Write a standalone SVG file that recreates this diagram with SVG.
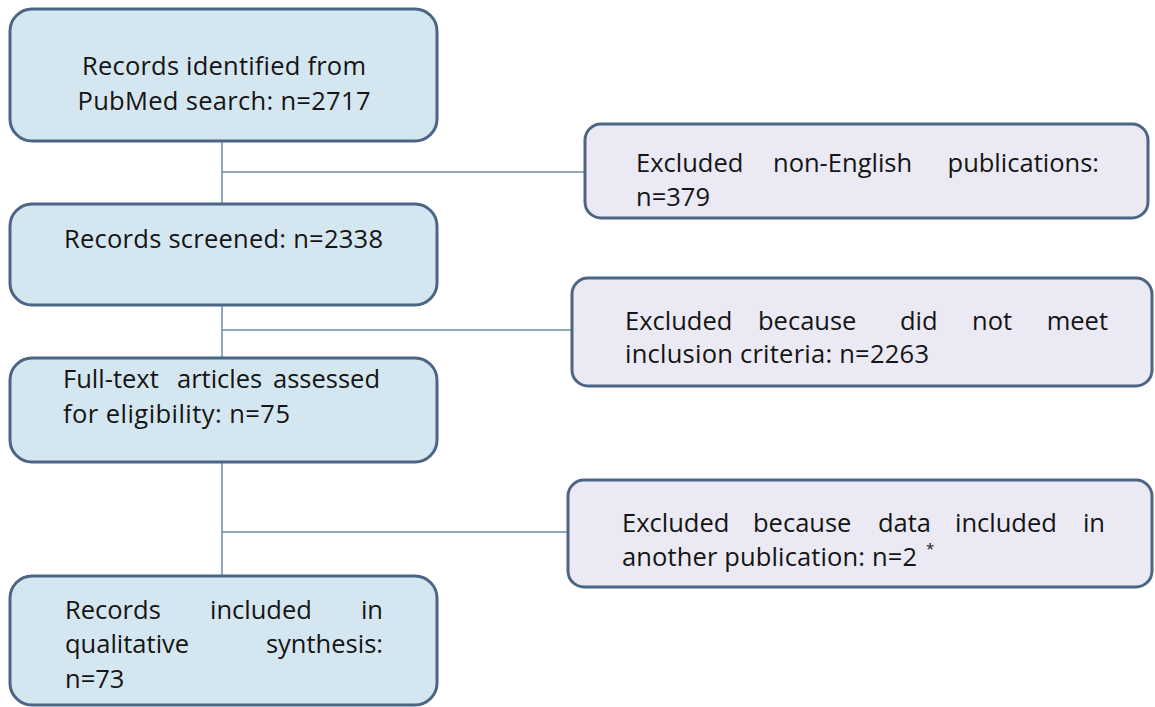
<svg xmlns="http://www.w3.org/2000/svg" width="1155" height="707" viewBox="0 0 1155 707">
<style>
.lb{fill:#d4e6ef;stroke:#4b6584;stroke-width:3}
.eb{fill:#ebe9f3;stroke:#4b6584;stroke-width:3}
.t{font-family:"Open Sans","Liberation Sans",sans-serif;font-size:25.5px;fill:#151515;font-variant-ligatures:none}
.c{stroke:#6d8cab;stroke-width:1.5;fill:none}
</style>
<rect width="1155" height="707" fill="#ffffff"/>
<g id="connectors">
<path class="c" d="M222 141V204M222 172H585"/>
<path class="c" d="M222 305V358M222 330H572"/>
<path class="c" d="M222 462V576M222 532H568"/>
</g>
<g id="identified">
<rect class="lb" x="10" y="9" width="427" height="132" rx="22"/>
<text class="t" x="224" y="75" text-anchor="middle" textLength="284" lengthAdjust="spacing">Records identified from</text>
<text class="t" x="224" y="110" text-anchor="middle" textLength="293" lengthAdjust="spacing">PubMed search: n=2717</text>
</g>
<g id="screened">
<rect class="lb" x="10" y="204" width="427" height="101" rx="22"/>
<text class="t" x="64" y="248" textLength="319" lengthAdjust="spacing">Records screened: n=2338</text>
</g>
<g id="fulltext">
<rect class="lb" x="10" y="358" width="427" height="104" rx="22"/>
<text class="t" y="388"><tspan x="63">Full-text</tspan><tspan x="177">articles</tspan><tspan x="380" text-anchor="end">assessed</tspan></text>
<text class="t" x="63" y="423" textLength="227" lengthAdjust="spacing">for eligibility: n=75</text>
</g>
<g id="included">
<rect class="lb" x="10" y="576" width="427" height="129" rx="22"/>
<text class="t" y="619"><tspan x="65">Records</tspan><tspan x="210">included</tspan><tspan x="383" text-anchor="end">in</tspan></text>
<text class="t" y="653"><tspan x="65">qualitative</tspan><tspan x="383" text-anchor="end">synthesis:</tspan></text>
<text class="t" x="65" y="688">n=73</text>
</g>
<g id="excl-language">
<rect class="eb" x="585" y="124" width="563" height="94" rx="16"/>
<text class="t" y="172"><tspan x="636">Excluded</tspan><tspan x="773">non-English</tspan><tspan x="1099" text-anchor="end">publications:</tspan></text>
<text class="t" x="636" y="206">n=379</text>
</g>
<g id="excl-criteria">
<rect class="eb" x="572" y="278" width="580" height="108" rx="16"/>
<text class="t" y="330"><tspan x="625">Excluded</tspan><tspan x="758">because</tspan><tspan x="900">did</tspan><tspan x="972">not</tspan><tspan x="1108" text-anchor="end">meet</tspan></text>
<text class="t" x="625" y="363" textLength="304" lengthAdjust="spacing">inclusion criteria: n=2263</text>
</g>
<g id="excl-duplicate">
<rect class="eb" x="568" y="480" width="584" height="107" rx="16"/>
<text class="t" y="532"><tspan x="622">Excluded</tspan><tspan x="753">because</tspan><tspan x="878">data</tspan><tspan x="955">included</tspan><tspan x="1105" text-anchor="end">in</tspan></text>
<text class="t" y="566"><tspan x="622" textLength="295" lengthAdjust="spacing">another publication: n=2</tspan><tspan x="926" y="554" font-size="15">*</tspan></text>
</g>
</svg>
